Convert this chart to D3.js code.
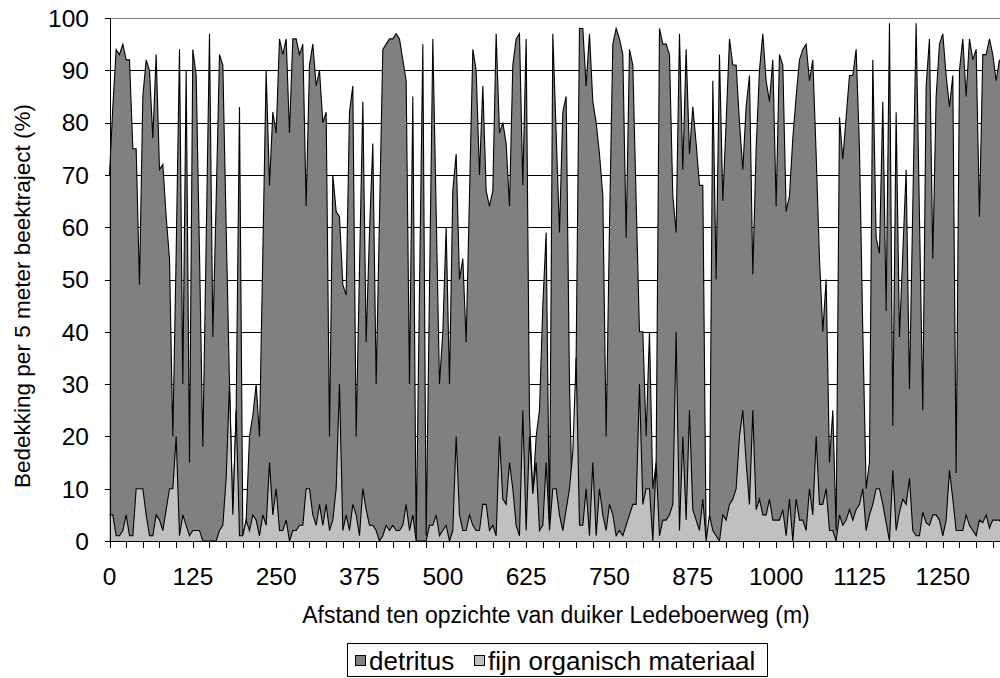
<!DOCTYPE html>
<html>
<head>
<meta charset="utf-8">
<script src="https://cdn.jsdelivr.net/npm/d3@7"></script>
<style>
  html, body { margin: 0; padding: 0; background: #fff; overflow: hidden; }
  svg { display: block; }
  text { font-family: "Liberation Sans", Arial, sans-serif; fill: #000; }
</style>
</head>
<body>
<script>
// ---- data (5 m sections, 0 .. 1340 m) ----
const distances = d3.range(0, 1345, 5);

const detritus = [
  70,83,94,93,95,92,92,75,75,49,
  85,92,90,77,93,71,72,62,54,20,
  55,94,30,90,15,94,89,55,18,57,
  97,39,65,93,91,60,30,5,25,83,
  1,4,20,24,30,20,55,90,68,82,
  78,96,93,96,78,96,96,93,95,64,
  91,95,87,90,80,82,20,70,63,62,
  49,47,82,87,20,52,84,38,59,76,
  30,62,94,95,96,96,97,96,92,88,
  30,85,0,48,95,1,48,96,63,30,
  40,60,30,67,74,50,54,38,66,94,
  90,70,87,67,64,67,97,78,80,76,
  64,91,96,97,68,96,24,9,20,25,
  45,59,2,97,78,59,82,85,30,2,
  35,98,98,87,97,84,80,74,66,20,
  60,95,98,96,93,58,94,91,65,40,
  40,20,40,10,15,98,95,95,93,66,
  59,97,71,94,74,83,76,68,68,0,
  2,88,50,93,65,80,96,91,91,80,
  71,83,89,51,75,90,97,88,84,92,
  64,93,91,63,66,77,85,92,94,95,
  88,92,74,54,40,50,15,25,2,81,
  73,81,89,89,94,75,40,10,15,92,
  58,55,84,44,99,22,82,39,55,71,
  29,64,99,62,25,87,96,54,85,95,
  97,89,83,89,13,90,96,85,96,92,
  94,62,93,93,96,93,88,92,90
];

const fijnOrganisch = [
  5,5,1,1,2,5,1,1,10,10,
  10,5,1,1,5,4,2,6,10,10,
  20,1,5,3,1,2,2,2,0,0,
  0,0,0,2,3,12,30,5,25,1,
  1,4,2,5,4,1,5,3,15,5,
  10,2,2,4,0,2,2,3,3,10,
  10,5,3,7,3,7,2,4,10,30,
  2,5,2,7,5,1,10,6,3,3,
  2,0,1,3,2,3,2,2,3,7,
  2,5,0,0,0,0,3,3,5,1,
  2,3,0,2,20,5,2,2,5,3,
  2,2,7,7,2,3,1,20,8,7,
  15,10,3,1,25,2,20,9,15,2,
  3,15,2,10,10,5,2,6,10,17,
  35,3,3,10,1,15,1,10,5,2,
  7,5,1,2,1,3,5,7,7,30,
  7,10,10,0,15,1,4,4,5,7,
  40,2,20,4,25,6,4,2,8,0,
  5,2,1,0,5,4,7,8,10,20,
  25,15,7,25,6,8,5,5,8,4,
  4,4,6,1,8,0,8,4,4,2,
  10,5,20,7,7,10,2,2,0,5,
  3,4,6,4,6,7,10,2,5,7,
  10,10,7,3.5,0,13.5,2,5.5,8,7,
  12,2,1,1,5.5,3.5,3,5,5,4,
  1,4,13.5,8,2,2,2,5,3,2,
  1,4,3.5,5,2.5,4,4,4,3
];

const xTickLabels = ["0","125","250","375","500","625","750","875","1000","1125","1250"];
const yTickValues = [0,10,20,30,40,50,60,70,80,90,100];
const seriesNames = ["detritus", "fijn organisch materiaal"];

// ---- layout ----
const W = 1000, H = 678;
const svg = d3.select("body").append("svg").attr("width", W).attr("height", H);

const x = d3.scaleLinear().domain([0, 1325]).range([109.5, 992.8]);
const y = d3.scaleLinear().domain([0, 100]).range([541, 18]);
const xRight = 1010;

// gridlines (behind series)
const grid = svg.append("g").attr("shape-rendering", "crispEdges");
grid.selectAll("line").data(yTickValues.filter(v => v > 0)).join("line")
  .attr("x1", x(0)).attr("x2", xRight)
  .attr("y1", d => Math.round(y(d)) + 0.5).attr("y2", d => Math.round(y(d)) + 0.5)
  .attr("stroke", d => d === 100 ? "#808080" : "#000")
  .attr("stroke-width", 1);

const rows = distances.map((d, i) => ({ d, det: detritus[i], fijn: fijnOrganisch[i] }));

const areaDet = d3.area().x(r => x(r.d)).y0(y(0)).y1(r => y(r.det));
const lineDet = d3.line().x(r => x(r.d)).y(r => y(r.det));
const areaFijn = d3.area().x(r => x(r.d)).y0(y(0)).y1(r => y(r.fijn));
const lineFijn = d3.line().x(r => x(r.d)).y(r => y(r.fijn));

svg.append("path").datum(rows).attr("d", areaDet).attr("fill", "#808080");
svg.append("path").datum(rows).attr("d", lineDet).attr("fill", "none")
  .attr("stroke", "#000").attr("stroke-width", 1.1);
svg.append("path").datum(rows).attr("d", areaFijn).attr("fill", "#c0c0c0");
svg.append("path").datum(rows).attr("d", lineFijn).attr("fill", "none")
  .attr("stroke", "#000").attr("stroke-width", 1.1);

// axes
const axes = svg.append("g").attr("shape-rendering", "crispEdges");
const x0px = Math.round(x(0)) + 0.5;
const y0px = Math.round(y(0)) + 0.5;
axes.append("line").attr("x1", x0px).attr("x2", x0px)
  .attr("y1", y(100)).attr("y2", y0px).attr("stroke", "#000");
axes.append("line").attr("x1", x0px).attr("x2", xRight)
  .attr("y1", y0px).attr("y2", y0px).attr("stroke", "#000");

// y ticks
axes.selectAll(".yt").data(yTickValues).join("line").attr("class", "yt")
  .attr("x1", x0px - 6).attr("x2", x0px)
  .attr("y1", d => Math.round(y(d)) + 0.5).attr("y2", d => Math.round(y(d)) + 0.5)
  .attr("stroke", "#000");
svg.selectAll(".yl").data(yTickValues).join("text").attr("class", "yl")
  .attr("x", 89).attr("y", d => y(d)).attr("dy", "0.36em")
  .attr("text-anchor", "end").attr("font-size", 24.5)
  .text(d => d);

// x ticks every 25 m
const xTickPos = d3.range(0, 1351, 25);
axes.selectAll(".xt").data(xTickPos).join("line").attr("class", "xt")
  .attr("x1", d => Math.round(x(d)) + 0.5).attr("x2", d => Math.round(x(d)) + 0.5)
  .attr("y1", y0px).attr("y2", y0px + 6).attr("stroke", "#000");
svg.selectAll(".xl").data(xTickLabels).join("text").attr("class", "xl")
  .attr("x", d => x(+d)).attr("y", 585)
  .attr("text-anchor", "middle").attr("font-size", 24.5)
  .text(d => d);

// axis titles
svg.append("text").attr("x", 556).attr("y", 623).attr("text-anchor", "middle")
  .attr("font-size", 23).text("Afstand ten opzichte van duiker Ledeboerweg (m)");
svg.append("text").attr("transform", "translate(30,296) rotate(-90)")
  .attr("text-anchor", "middle").attr("font-size", 22.5)
  .text("Bedekking per 5 meter beektraject (%)");

// legend
const lg = svg.append("g");
lg.append("rect").attr("x", 347.5).attr("y", 643.5).attr("width", 420).attr("height", 33)
  .attr("fill", "#fff").attr("stroke", "#000").attr("shape-rendering", "crispEdges");
const legendItems = [
  { name: seriesNames[0], fill: "#808080", sx: 355.5, tx: 369 },
  { name: seriesNames[1], fill: "#c0c0c0", sx: 474.5, tx: 488 }
];
legendItems.forEach(it => {
  lg.append("rect").attr("x", it.sx).attr("y", 655.5).attr("width", 10).attr("height", 10)
    .attr("fill", it.fill).attr("stroke", "#000").attr("shape-rendering", "crispEdges");
  lg.append("text").attr("x", it.tx).attr("y", 669.5).attr("font-size", 26).text(it.name);
});
</script>
</body>
</html>
